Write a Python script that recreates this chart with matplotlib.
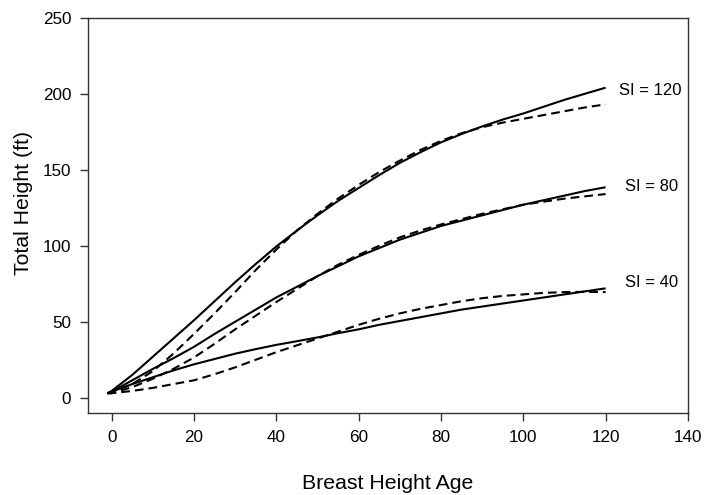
import matplotlib
matplotlib.use("Agg")
import matplotlib.pyplot as plt

plt.rcParams['font.family'] = ['Liberation Sans', 'DejaVu Sans']

ages = [-1, 0, 5, 10, 15, 20, 25, 30, 35, 40, 45, 50, 55, 60, 65, 70, 75,
        80, 85, 90, 95, 100, 105, 110, 115, 120]

si120_solid  = [3, 4.5, 15, 27, 39, 51, 63.5, 76, 88, 99.5, 110, 120, 129.5, 138,
                146.5, 154.5, 161.5, 168, 173.5, 178.5, 183, 187, 191.5, 196, 200, 204]
si120_dashed = [3, 3.5, 9, 17.5, 29, 42, 55.5, 69.5, 84, 97.5, 110, 121, 131, 140,
                148.5, 156, 163, 169, 174, 178, 181, 183.5, 186, 188.5, 191, 193]
si80_solid   = [3, 4, 11.5, 19, 26, 33.5, 42, 50, 58, 66, 73, 80, 86.5, 93,
                98.5, 104, 108.5, 113, 116.5, 120, 123.5, 127, 130, 133, 136, 138.5]
si80_dashed  = [3, 3, 7, 12.5, 19, 26.5, 35.5, 45, 54, 63, 71.5, 80, 87.5, 94,
                100, 105.5, 110, 114, 117.5, 121, 124, 127, 129, 131, 132.5, 134]
si40_solid   = [3, 4, 9, 13.5, 18, 22, 25.5, 29, 32, 34.8, 37.2, 39.7, 42.5, 45,
                48, 50.5, 53, 55.5, 58, 60, 62, 64, 66, 68, 70, 72]
si40_dashed  = [3, 3, 4.5, 6.5, 9, 11.5, 15.5, 20, 25, 30, 34.5, 39, 43.5, 48,
                52, 55.5, 58.5, 61, 63.5, 65.5, 67, 68, 69, 69.5, 69.7, 69.5]

curve_labels = ['SI = 120', 'SI = 80', 'SI = 40']
label_x = [123.3, 124.8, 124.8]
label_y = [202, 139, 76]

fig = plt.figure(figsize=(7.05, 4.95), dpi=100)
ax = fig.add_axes([0.1248, 0.1657, 0.851, 0.7985])

solid = [si120_solid, si80_solid, si40_solid]
dashed = [si120_dashed, si80_dashed, si40_dashed]
for s, d in zip(solid, dashed):
    ax.plot(ages, s, color='black', lw=1.5, solid_capstyle='butt')
    ax.plot(ages, d, color='black', lw=1.5, linestyle=(0, (4.2, 2.4)))

for t, x, y in zip(curve_labels, label_x, label_y):
    ax.text(x, y, t, fontsize=12, va='center', ha='left')

ax.set_xlim(-5.75, 140)
ax.set_ylim(-10, 250)
ax.set_xticks(range(0, 141, 20))
ax.set_yticks(range(0, 251, 50))
ax.tick_params(direction='out', length=6, width=1, labelsize=12.3, pad=6, color='#333333')
for sp in ax.spines.values():
    sp.set_color('#333333')
    sp.set_linewidth(1)

ax.set_xlabel('Breast Height Age', fontsize=15.3)
ax.set_ylabel('Total Height (ft)', fontsize=15.3)
ax.xaxis.set_label_coords(0.5, -0.155)
ax.yaxis.set_label_coords(-0.092, 0.531)

fig.savefig('out.png', dpi=100)
